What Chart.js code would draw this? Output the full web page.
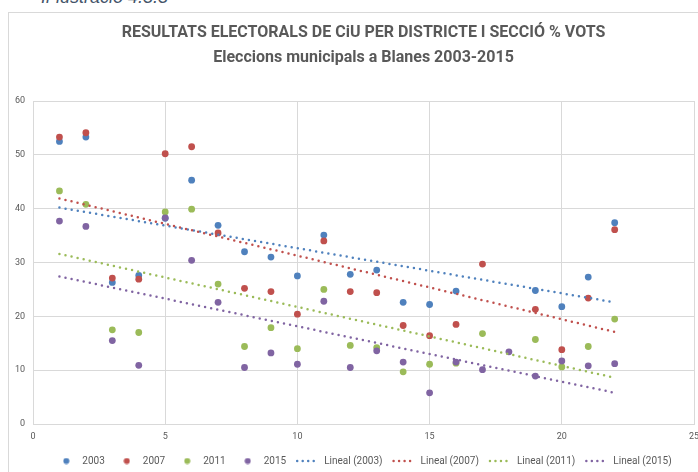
<!DOCTYPE html>
<html>
<head>
<meta charset="utf-8">
<script src="https://cdn.jsdelivr.net/npm/chart.js@4.4.1/dist/chart.umd.min.js"></script>
<style>
    html, body { margin: 0; padding: 0; background: #fff; }
    #wrap { position: relative; width: 698px; height: 472px; overflow: hidden; }
    #caption { position: absolute; left: 41px; top: -12px; font: italic 18px/18px "Liberation Sans", sans-serif; color: #44546a; white-space: nowrap; }
    #frame { position: absolute; left: 8px; top: 12px; width: 720px; height: 490px; border: 1px solid #d9d9d9; }
    #grafic { position: absolute; left: 0; top: 0; }
</style>
</head>
<body>
<div id="wrap">
    <div id="caption">Il·lustració 4.3.3</div>
    <div id="frame"></div>
    <canvas id="grafic" width="698" height="472"></canvas>
</div>
<script>
// Dades: % vots CiU per districte/secció (eix X) i any electoral
const seccions = [1, 2, 3, 4, 5, 6, 7, 8, 9, 10, 11, 12, 13, 14, 15, 16, 17, 18, 19, 20, 21, 22];
const vots2003 = [52.5, 53.3, 26.3, 27.6, 38.2, 45.3, 36.9, 32.0, 31.0, 27.5, 35.1, 27.8, 28.6, 22.6, 22.2, 24.7, null, null, 24.8, 21.8, 27.3, 37.4];
const vots2007 = [53.3, 54.1, 27.1, 26.9, 50.2, 51.5, 35.5, 25.2, 24.6, 20.4, 34.0, 24.6, 24.4, 18.3, 16.4, 18.5, 29.7, null, 21.3, 13.8, 23.4, 36.1];
const vots2011 = [43.3, 40.8, 17.5, 17.0, 39.4, 39.9, 26.0, 14.4, 17.9, 14.0, 25.0, 14.6, 14.2, 9.7, 11.1, 11.3, 16.8, null, 15.7, 10.6, 14.4, 19.5];
const vots2015 = [37.7, 36.7, 15.5, 10.9, 38.3, 30.4, 22.6, 10.5, 13.2, 11.1, 22.8, 10.5, 13.6, 11.5, 5.8, 11.5, 10.1, 13.4, 8.9, 11.7, 10.8, 11.2];

// Línies de tendència (lineal), llegides als extrems
const tendX = [1, 22];
const tend2003 = [40.2, 22.6];
const tend2007 = [41.9, 17.1];
const tend2011 = [31.6, 8.6];
const tend2015 = [27.4, 5.8];

const anys = ['2003', '2007', '2011', '2015'];
const titol = ['RESULTATS ELECTORALS DE CiU PER DISTRICTE I SECCIÓ % VOTS', 'Eleccions municipals a Blanes 2003-2015'];

const colors = ['#4f81bd', '#c0504d', '#9bbb59', '#8064a2'];
const series = [vots2003, vots2007, vots2011, vots2015];
const tendencies = [tend2003, tend2007, tend2011, tend2015];
const gris = '#595959';
const graella = '#d9d9d9';
const font = 'Roboto, sans-serif';

function punts(valors) {
    return seccions.map((s, i) => ({ x: s, y: valors[i] })).filter(p => p.y !== null);
}

// marcador rodó per a la llegenda
function marcador(color) {
    const c = document.createElement('canvas');
    c.width = 7; c.height = 7;
    const g = c.getContext('2d');
    g.fillStyle = color;
    g.beginPath();
    g.arc(3.5, 3.5, 3, 0, Math.PI * 2);
    g.fill();
    return c;
}

const datasets = [];
anys.forEach((any, i) => {
    datasets.push({
        type: 'scatter',
        label: any,
        data: punts(series[i]),
        backgroundColor: colors[i],
        borderColor: colors[i],
        borderWidth: 0,
        pointRadius: 3.4,
        pointHoverRadius: 4,
        order: 8 - i
    });
});
anys.forEach((any, i) => {
    datasets.push({
        type: 'line',
        label: 'Lineal (' + any + ')',
        data: tendX.map((x, k) => ({ x: x, y: tendencies[i][k] })),
        borderColor: colors[i],
        backgroundColor: colors[i],
        borderWidth: 2.5,
        borderDash: [0, 6.2],
        borderCapStyle: 'round',
        pointRadius: 0,
        fill: false,
        order: 4 - i
    });
});

new Chart(document.getElementById('grafic'), {
    type: 'scatter',
    data: { datasets: datasets },
    options: {
        responsive: false,
        animation: false,
        layout: { padding: { left: 8, right: 4, top: 0, bottom: -4 } },
        plugins: {
            title: {
                display: true,
                fullSize: false,
                text: titol,
                color: gris,
                font: { family: font, size: 16, weight: 'bold', lineHeight: 25 / 16 },
                padding: { top: 20.5, bottom: 30.5 }
            },
            legend: {
                position: 'bottom',
                fullSize: false,
                labels: {
                    usePointStyle: true,
                    pointStyleWidth: 22,
                    padding: 11,
                    color: gris,
                    font: { family: font, size: 10 },
                    generateLabels: chart => chart.data.datasets.map((ds, i) => {
                        const linia = ds.type === 'line';
                        return {
                            text: ds.label,
                            datasetIndex: i,
                            hidden: !chart.isDatasetVisible(i),
                            fontColor: gris,
                            fillStyle: ds.backgroundColor,
                            strokeStyle: ds.borderColor,
                            pointStyle: linia ? 'line' : marcador(ds.backgroundColor),
                            lineWidth: linia ? 2.5 : 1,
                            lineDash: linia ? [0, 5.5] : [],
                            lineCap: 'round'
                        };
                    })
                }
            },
            tooltip: { enabled: true }
        },
        scales: {
            x: {
                type: 'linear',
                min: 0,
                max: 25,
                ticks: { stepSize: 5, color: gris, font: { family: font, size: 9 }, padding: 7 },
                grid: { color: graella, drawTicks: false },
                border: { color: graella },
                afterFit: s => { s.height = 21; s.paddingLeft = 0; s.paddingRight = 0; }
            },
            y: {
                min: 0,
                max: 60,
                ticks: { stepSize: 10, color: gris, font: { family: font, size: 9 }, padding: 8 },
                grid: { color: graella, drawTicks: false },
                border: { color: graella },
                afterFit: s => { s.width = 25; s.paddingTop = 0; s.paddingBottom = 0; }
            }
        }
    }
});
</script>
</body>
</html>
